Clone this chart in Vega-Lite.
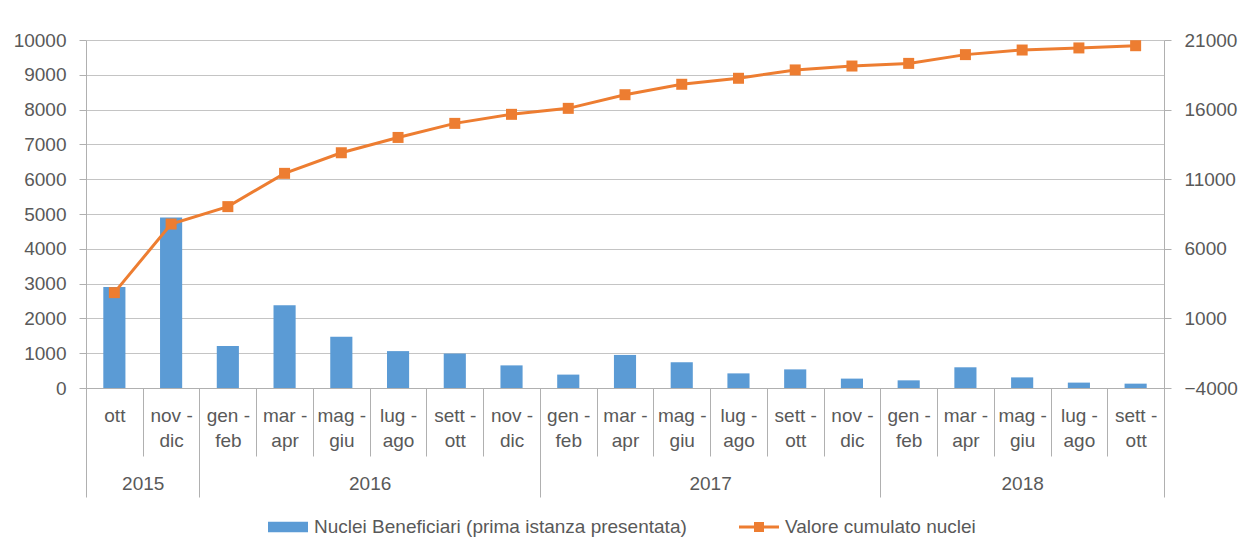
{
  "$schema": "https://vega.github.io/schema/vega-lite/v6.json",
  "width": 1078,
  "height": 348,
  "autosize": {"type": "none"},
  "padding": {"left": 86, "top": 40, "right": 76, "bottom": 168},
  "background": "white",
  "config": {
    "view": {"stroke": null},
    "font": "Liberation Sans",
    "axis": {"labelFont": "Liberation Sans", "labelFontSize": 19, "labelColor": "#595959", "domainColor": "#B0B0B0", "tickColor": "#B0B0B0", "gridColor": "#C4C4C4", "title": null},
    "legend": {"labelFont": "Liberation Sans"}
  },
  "datasets": {
    "main": [
      {"key": "ott| |2015", "value": 2900, "cum": 2850},
      {"key": "nov -|dic|2015", "value": 4900, "cum": 7780},
      {"key": "gen -|feb|2016", "value": 1210, "cum": 9030},
      {"key": "mar -|apr|2016", "value": 2380, "cum": 11420},
      {"key": "mag -|giu|2016", "value": 1470, "cum": 12900},
      {"key": "lug -|ago|2016", "value": 1060, "cum": 14000},
      {"key": "sett -|ott|2016", "value": 990, "cum": 15010},
      {"key": "nov -|dic|2016", "value": 650, "cum": 15660},
      {"key": "gen -|feb|2017", "value": 385, "cum": 16090},
      {"key": "mar -|apr|2017", "value": 950, "cum": 17070},
      {"key": "mag -|giu|2017", "value": 740, "cum": 17820},
      {"key": "lug -|ago|2017", "value": 420, "cum": 18250},
      {"key": "sett -|ott|2017", "value": 535, "cum": 18850},
      {"key": "nov -|dic|2017", "value": 270, "cum": 19130},
      {"key": "gen -|feb|2018", "value": 220, "cum": 19320},
      {"key": "mar -|apr|2018", "value": 595, "cum": 19950},
      {"key": "mag -|giu|2018", "value": 305, "cum": 20280},
      {"key": "lug -|ago|2018", "value": 155, "cum": 20430},
      {"key": "sett -|ott|2018", "value": 125, "cum": 20590}
    ],
    "years": [
      {"year": "2015", "start": 0, "end": 2},
      {"year": "2016", "start": 2, "end": 8},
      {"year": "2017", "start": 8, "end": 14},
      {"year": "2018", "start": 14, "end": 19}
    ]
  },
  "layer": [
    {
      "data": {"name": "main"},
      "layer": [
        {
          "mark": {"type": "bar", "width": {"band": 0.39}},
          "encoding": {
            "x": {
              "field": "key", "type": "nominal", "sort": null,
              "scale": {"paddingInner": 0, "paddingOuter": 0},
              "axis": {
                "orient": "bottom", "tickBand": "extent", "tickSize": 68, "labelPadding": -50,
                "labelLineHeight": 25, "labelAngle": 0, "labelOverlap": false, "grid": false,
                "labelExpr": "isString(datum.value) ? [split(datum.value, '|')[0], split(datum.value, '|')[1]] : ''"
              }
            },
            "y": {
              "field": "value", "type": "quantitative",
              "scale": {"domain": [0, 10000], "nice": false},
              "axis": {"orient": "left", "format": "d", "values": [0, 1000, 2000, 3000, 4000, 5000, 6000, 7000, 8000, 9000, 10000], "grid": true, "tickSize": 7, "labelPadding": 13, "domain": true}
            },
            "fill": {
              "datum": "Nuclei Beneficiari (prima istanza presentata)",
              "scale": {"domain": ["Nuclei Beneficiari (prima istanza presentata)", "Valore cumulato nuclei"], "range": ["#5B9BD5", "#ED7D31"]},
              "legend": {
                "orient": "none", "legendX": 182, "legendY": 467, "padding": 0,
                "direction": "horizontal", "title": null,
                "labelFontSize": 19, "labelColor": "#595959", "labelLimit": 0, "symbolSize": 1600,
                "columnPadding": 52, "labelOffset": 6, "symbolStrokeWidth": 0,
                "encode": {"symbols": {"update": {"shape": {"signal": "datum.value === 'Valore cumulato nuclei' ? 'M-1,-0.07L1,-0.07L1,0.07L-1,0.07Z M-0.25,-0.25L0.25,-0.25L0.25,0.25L-0.25,0.25Z' : 'M-1,-0.26L1,-0.26L1,0.26L-1,0.26Z'"}, "strokeWidth": {"value": 0}}}}
              }
            }
          }
        },
        {
          "layer": [
            {
              "mark": {"type": "line", "color": "#ED7D31", "strokeWidth": 3},
              "encoding": {
                "x": {"field": "key", "type": "nominal", "sort": null},
                "y": {
                  "field": "cum", "type": "quantitative",
                  "scale": {"domain": [-4000, 21000], "nice": false, "zero": false},
                  "axis": {"orient": "right", "format": "d", "values": [-4000, 1000, 6000, 11000, 16000, 21000], "grid": false, "tickSize": 7, "labelPadding": 13, "domain": true}
                }
              }
            },
            {
              "mark": {"type": "point", "shape": "square", "filled": true, "size": 121, "opacity": 1},
              "encoding": {
                "x": {"field": "key", "type": "nominal", "sort": null},
                "y": {"field": "cum", "type": "quantitative"},
                "fill": {"datum": "Valore cumulato nuclei"}
              }
            }
          ]
        }
      ],
      "resolve": {"scale": {"y": "independent"}}
    },
    {
      "data": {"name": "years"},
      "mark": {"type": "point", "opacity": 0},
      "encoding": {
        "x": {
          "field": "start", "type": "quantitative",
          "scale": {"domain": [0, 19], "nice": false, "zero": false},
          "axis": {
            "orient": "bottom", "values": [0, 1, 2, 5, 8, 11, 14, 16.5, 19],
            "tickSize": 109, "labelPadding": -23, "domain": false, "grid": false,
            "labelOverlap": false, "labelFlush": false,
            "labelExpr": "datum.value == 1 ? '2015' : datum.value == 5 ? '2016' : datum.value == 11 ? '2017' : datum.value == 16.5 ? '2018' : ''",
            "tickOpacity": {"condition": {"test": "datum.value == 1 || datum.value == 5 || datum.value == 11 || datum.value == 16.5", "value": 0}, "value": 1}
          }
        }
      }
    }
  ],
  "resolve": {"scale": {"x": "independent"}, "axis": {"x": "independent"}}
}
